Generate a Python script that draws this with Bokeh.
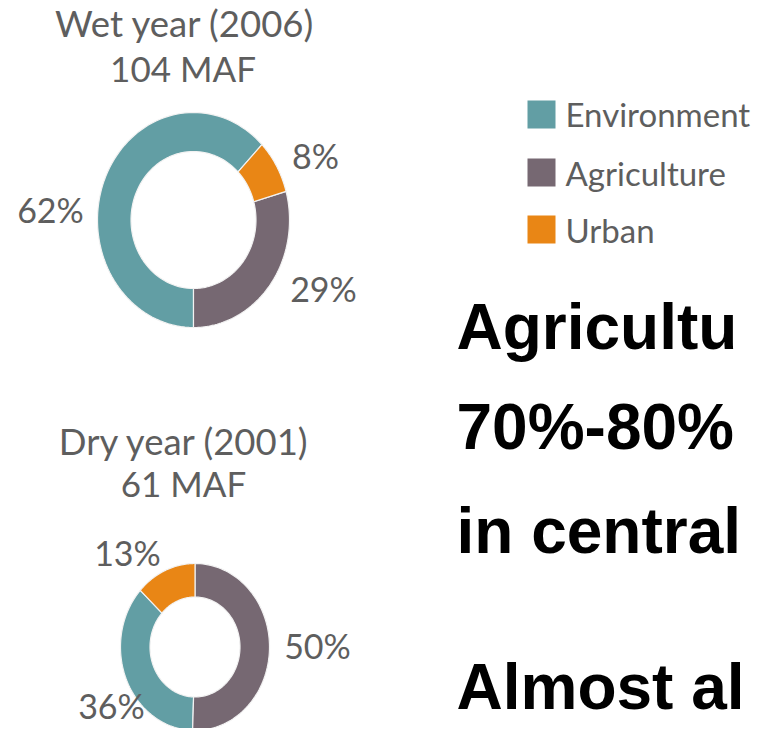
import numpy as np
from bokeh.plotting import figure
from bokeh.models import Range1d
from bokeh.core.properties import value
from bokeh.embed import file_html
from bokeh.resources import INLINE

# ---------------- data ----------------
categories = ["Environment", "Agriculture", "Urban"]
colors = ["#629EA4", "#766872", "#E98615"]

wet_title = "Wet year (2006)"
wet_total = "104 MAF"
wet_pct = [62, 29, 8]          # Environment, Agriculture, Urban
wet_order = ["Environment", "Urban", "Agriculture"]   # clockwise from 6 o'clock

dry_title = "Dry year (2001)"
dry_total = "61 MAF"
dry_pct = [36, 50, 13]         # Environment, Agriculture, Urban
dry_order = ["Agriculture", "Environment", "Urban"]   # clockwise from 12 o'clock

slide_lines = ["Agricultu", "70%-80%", "in central", "Almost al"]

# ---------------- layout (pixel coordinates of the picture, y down) ----------------
W, H = 751, 728
def Y(img_y):
    return H - img_y

wet_geo = dict(cx=193, cy=219.5, ao=96, bo=107.5, ai=62.5, bi=68.5, start=180)
dry_geo = dict(cx=194.5, cy=646.5, ao=74.5, bo=83.5, ai=45, bi=50, start=0)

# label anchor = (centre x, centre of cap height)
wet_label_pos = {"Environment": (50, 209), "Agriculture": (323, 287.5), "Urban": (315, 155)}
dry_label_pos = {"Environment": (111, 705), "Agriculture": (317, 645), "Urban": (127, 552)}

p = figure(width=W, height=H, x_range=Range1d(0, W), y_range=Range1d(0, H),
           output_backend="svg", toolbar_location=None, min_border=0)
p.axis.visible = False
p.grid.visible = False
p.outline_line_color = None
p.background_fill_color = "white"
p.border_fill_color = "white"


def slice_polys(pcts, order, geo):
    vals = dict(zip(categories, pcts))
    total = float(sum(pcts))
    polys = {}
    ang = geo["start"]
    for cat in order:
        span = vals[cat] / total * 360.0
        t = np.radians(np.linspace(ang, ang + span, 90))
        xo = geo["cx"] + geo["ao"] * np.sin(t)
        yo = Y(geo["cy"]) + geo["bo"] * np.cos(t)
        xi = geo["cx"] + geo["ai"] * np.sin(t[::-1])
        yi = Y(geo["cy"]) + geo["bi"] * np.cos(t[::-1])
        polys[cat] = (list(np.concatenate([xo, xi])), list(np.concatenate([yo, yi])))
        ang += span
    return polys

wet_polys = slice_polys(wet_pct, wet_order, wet_geo)
dry_polys = slice_polys(dry_pct, dry_order, dry_geo)

for cat, col in zip(categories, colors):
    xs = [wet_polys[cat][0], dry_polys[cat][0]]
    ys = [wet_polys[cat][1], dry_polys[cat][1]]
    p.patches(xs=xs, ys=ys, fill_color=col, line_color="#F2F2F2", line_width=1.2)

gray = "#5E5E5E"
font = value("Lato")

# titles (year lines and totals)
p.text(x=[184.5, 184], y=[Y(22.5), Y(440.5)], text=[wet_title, dry_title],
       text_font=font, text_font_size=value("36.5px"), text_color=gray,
       text_align="center", text_baseline="alphabetic")
p.text(x=[182.5, 183], y=[Y(67.5), Y(482.5)], text=[wet_total, dry_total],
       text_font=font, text_font_size=value("35px"), text_color=gray,
       text_align="center", text_baseline="alphabetic")

# percentage labels
lx, ly, lt = [], [], []
for pcts, pos in ((wet_pct, wet_label_pos), (dry_pct, dry_label_pos)):
    for cat, v in zip(categories, pcts):
        lx.append(pos[cat][0]); ly.append(Y(pos[cat][1])); lt.append(f"{v}%")
p.text(x=lx, y=ly, text=lt, text_font=font, text_font_size=value("34px"),
       text_color=gray, text_align="center", text_baseline="alphabetic")

# legend
leg_y = [114, 172, 229]
p.rect(x=[541] * 3, y=[Y(v) for v in leg_y], width=28, height=28,
       width_units="screen", height_units="screen", fill_color=colors, line_color=None)
p.text(x=[565] * 3, y=[Y(v) for v in [113.5, 172, 229]], text=categories, text_font=font,
       text_font_size=value("33px"), text_color=gray, text_align="left",
       text_baseline="alphabetic")

# slide overlay text
p.text(x=[456] * 4, y=[Y(v) for v in [326.5, 426.5, 530, 686]], text=slide_lines,
       text_font=value("Liberation Sans"), text_font_style="bold",
       text_font_size=value("64px"), text_color="black", text_align="left",
       text_baseline="alphabetic")

open("out.html", "w").write(file_html(p, INLINE))
